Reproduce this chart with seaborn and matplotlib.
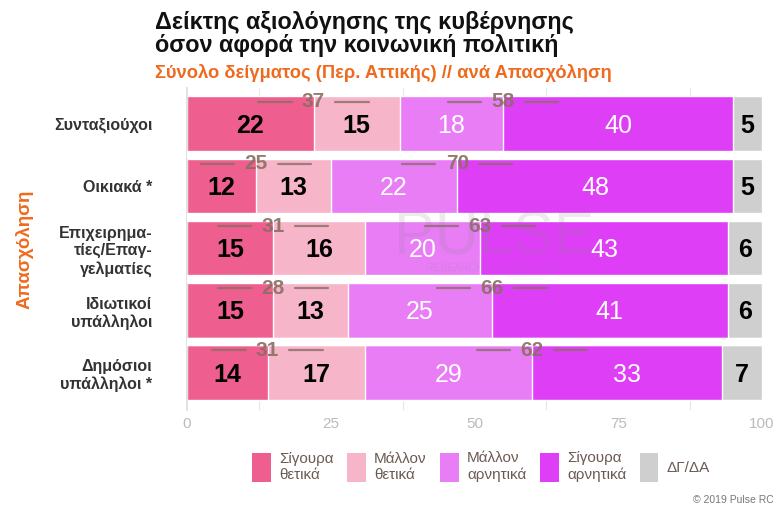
import numpy as np
import pandas as pd
import seaborn as sns
import matplotlib.pyplot as plt
from matplotlib.patches import Patch

# data
categories = ['Συνταξιούχοι', 'Οικιακά *', 'Επιχειρημα-\nτίες/Επαγ-\nγελματίες',
              'Ιδιωτικοί\nυπάλληλοι', 'Δημόσιοι\nυπάλληλοι *']
sure_pos = [22, 12, 15, 15, 14]
rather_pos = [15, 13, 16, 13, 17]
rather_neg = [18, 22, 20, 25, 29]
sure_neg = [40, 48, 43, 41, 33]
dk_na = [5, 5, 6, 6, 7]
series_names = ['Σίγουρα\nθετικά', 'Μάλλον\nθετικά', 'Μάλλον\nαρνητικά', 'Σίγουρα\nαρνητικά', 'ΔΓ/ΔΑ']
colors = ['#EE5E8E', '#F7B5CA', '#E87DF6', '#DF3EF7', '#CFCFCF']
text_colors = ['black', 'black', 'white', 'white', 'black']

sns.set_theme(style='white')
plt.rcParams['font.family'] = ['Liberation Sans', 'DejaVu Sans']

df = pd.DataFrame({'cat': categories, 's1': sure_pos, 's2': rather_pos,
                   's3': rather_neg, 's4': sure_neg, 's5': dk_na})
cols = ['s1', 's2', 's3', 's4', 's5']
cum = df[cols].cumsum(axis=1)

fig = plt.figure(figsize=(7.76, 5.09), dpi=100)
ax = fig.add_axes([0.241, 0.1945, 0.741, 0.6326])

# stacked bars: draw cumulative totals from the largest down
for i in range(len(cols) - 1, -1, -1):
    sns.barplot(x=cum[cols[i]], y=df['cat'], orient='h', color=colors[i],
                width=0.887, saturation=1, ax=ax, zorder=2)

ax.set_xlim(0, 100)
ax.set_ylim(4.6, -0.58)
ax.set_xticks([0, 25, 50, 75, 100])
ax.set_xticklabels(['0', '25', '50', '75', '100'], color='#BBBBBB', fontsize=11)
ax.set_xticks(np.arange(0, 101, 12.5), minor=True)
ax.grid(which='minor', axis='x', color='#E6E6E6', lw=0.8, zorder=0)
ax.tick_params(axis='x', which='both', length=0, pad=5)
ax.tick_params(axis='y', length=0, pad=25)
for lab in ax.get_yticklabels():
    lab.set_fontweight('bold')
    lab.set_fontsize(11.5)
    lab.set_color('#333333')
    lab.set_horizontalalignment('right')
    lab.set_multialignment('right')
for s in ['top', 'right', 'bottom']:
    ax.spines[s].set_visible(False)
ax.spines['left'].set_color('#DDDDDD')
ax.set_xlabel('')
ax.set_ylabel('Απασχόληση', color='#EE6A1E', fontsize=13.5, fontweight='bold', labelpad=15)

# white separators between rows
for r in range(len(categories) - 1):
    ax.axhline(r + 0.5, color='white', lw=6, zorder=3)

# segment labels
for r in range(len(categories)):
    for i, c in enumerate(cols):
        v = df.loc[r, c]
        mid = cum.loc[r, c] - v / 2
        ax.text(mid, r + 0.03, str(v), ha='center', va='center', fontsize=18,
                fontweight='bold' if text_colors[i] == 'black' else 'normal',
                color=text_colors[i], zorder=5)

# totals above each row
tot_color = '#8A6E62'
for r in range(len(categories)):
    pos_total = sure_pos[r] + rather_pos[r]
    neg_total = rather_neg[r] + sure_neg[r]
    for xc, tot in [(sure_pos[r], pos_total), (pos_total + rather_neg[r], neg_total)]:
        ax.text(xc, r - 0.36, str(tot), ha='center', va='center', fontsize=15,
                fontweight='bold', color=tot_color, alpha=0.9, zorder=6)
        ax.plot([xc - 9.6, xc - 3.8], [r - 0.36, r - 0.36], color=tot_color, lw=1.6, alpha=0.8, zorder=6)
        ax.plot([xc + 3.8, xc + 9.6], [r - 0.36, r - 0.36], color=tot_color, lw=1.6, alpha=0.8, zorder=6)

# watermark
ax.text(53.5, 1.85, 'PULSE', ha='center', va='center', fontsize=44, color='#888888',
        fontweight='light', alpha=0.16, zorder=7)
ax.text(53.5, 2.32, 'RESEARCH & CONSULTING', ha='center', va='center', fontsize=7.5,
        color='#888888', alpha=0.16, zorder=7)

# titles
fig.text(0.2, 0.978, 'Δείκτης αξιολόγησης της κυβέρνησης\nόσον αφορά την κοινωνική πολιτική',
         ha='left', va='top', fontsize=16.8, fontweight='bold', color='#111111', linespacing=1.0)
fig.text(0.2, 0.857, 'Σύνολο δείγματος (Περ. Αττικής) // ανά Απασχόληση',
         ha='left', va='center', fontsize=13.2, fontweight='bold', color='#EE6A1E')

# legend
handles = [Patch(facecolor=c, edgecolor='none') for c in colors]
fig.legend(handles, series_names, loc='center', bbox_to_anchor=(0.62, 0.083), ncol=5,
           frameon=False, fontsize=11, handlelength=1.2, handleheight=2.6,
           handletextpad=0.55, columnspacing=0.9, labelcolor='#6B5A52')

fig.text(0.997, 0.018, '© 2019 Pulse RC', ha='right', va='center', fontsize=7.5, color='#777777')

fig.savefig('out.png', dpi=100)
